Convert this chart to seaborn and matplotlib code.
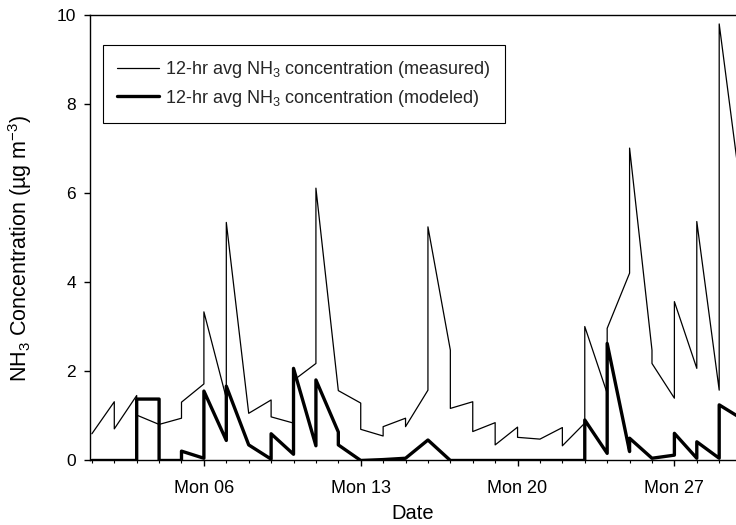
import pandas as pd
import matplotlib
matplotlib.use("Agg")
import matplotlib.pyplot as plt
import matplotlib.dates as mdates
import seaborn as sns

# day of month (Sept 2004) and 12-hr avg NH3
meas_day = [1, 2, 2, 3, 3, 4, 5, 5, 6, 6, 7, 7, 8, 9, 9, 10, 10, 11, 11, 12,
            13, 13, 14, 14, 15, 15, 16, 16, 17, 17, 18, 18, 19, 19, 20, 20, 21,
            22, 22, 23, 23, 24, 24, 25, 25, 26, 26, 27, 27, 28, 28, 29, 29, 30]
meas_val = [0.60, 1.32, 0.71, 1.46, 1.02, 0.81, 0.95, 1.31, 1.72, 3.34, 1.40,
            5.35, 1.06, 1.36, 0.98, 0.84, 1.80, 2.18, 6.12, 1.57, 1.29, 0.70,
            0.55, 0.76, 0.95, 0.76, 1.58, 5.25, 2.48, 1.17, 1.32, 0.65, 0.85,
            0.35, 0.75, 0.52, 0.48, 0.74, 0.33, 0.84, 3.01, 1.51, 2.97, 4.21,
            7.02, 2.48, 2.18, 1.40, 3.57, 2.07, 5.37, 1.58, 9.81, 5.93]

mod_day = [1, 3, 3, 4, 4, 5, 5, 6, 6, 7, 7, 8, 9, 9, 10, 10, 11, 11, 12, 12,
           13, 14, 15, 16, 17, 23, 23, 24, 24, 25, 25, 26, 27, 27, 28, 28,
           29, 29, 30]
mod_val = [0.0, 0.0, 1.38, 1.38, 0.0, 0.0, 0.21, 0.05, 1.56, 0.45, 1.67, 0.35,
           0.03, 0.60, 0.14, 2.07, 0.33, 1.81, 0.64, 0.35, 0.0, 0.02, 0.05,
           0.46, 0.0, 0.0, 0.91, 0.16, 2.63, 0.20, 0.50, 0.05, 0.12, 0.61,
           0.05, 0.42, 0.05, 1.25, 0.94]

start = pd.Timestamp("2004-09-01")
meas = pd.DataFrame({"date": start + pd.to_timedelta([d - 1 for d in meas_day], unit="D"),
                     "nh3": meas_val})
mod = pd.DataFrame({"date": start + pd.to_timedelta([d - 1 for d in mod_day], unit="D"),
                    "nh3": mod_val})

sns.set_theme(style="ticks")
plt.rcParams["font.family"] = ["Liberation Sans", "DejaVu Sans"]
plt.rcParams["mathtext.default"] = "regular"

fig = plt.figure(figsize=(7.36, 5.25), dpi=100)
ax = fig.add_axes([0.1223, 0.1229, 0.8777, 0.8476])

sns.lineplot(data=meas, x="date", y="nh3", ax=ax, estimator=None, sort=False,
             color="black", linewidth=0.9,
             label=r"12-hr avg NH$_3$ concentration (measured)")
sns.lineplot(data=mod, x="date", y="nh3", ax=ax, estimator=None, sort=False,
             color="black", linewidth=2.4,
             label=r"12-hr avg NH$_3$ concentration (modeled)")

ax.set_xlim(start - pd.Timedelta(hours=2), start + pd.Timedelta(days=28, hours=18))
ax.set_ylim(0, 10)
ax.set_yticks([0, 2, 4, 6, 8, 10])

ax.xaxis.set_major_locator(mdates.WeekdayLocator(byweekday=mdates.MO))
ax.xaxis.set_major_formatter(mdates.DateFormatter("%a %d"))
ax.xaxis.set_minor_locator(mdates.DayLocator())

ax.tick_params(axis="both", which="major", direction="out", length=4,
               width=1, pad=6, color="black", labelcolor="black")
ax.tick_params(axis="y", which="major", labelsize=12.5)
ax.tick_params(axis="x", which="major", labelsize=13, pad=10)
ax.tick_params(axis="x", which="minor", direction="out", length=2.5, width=0.8,
               color="black")

for side in ["left", "bottom", "top"]:
    ax.spines[side].set_visible(True)
    ax.spines[side].set_color("black")
    ax.spines[side].set_linewidth(1.0)
ax.spines["right"].set_visible(False)

ax.set_xlabel("Date", fontsize=14.5, color="black", labelpad=5)
ax.set_ylabel(r"NH$_3$ Concentration (µg m$^{-3}$)", fontsize=15.5,
              color="black")
ax.yaxis.set_label_coords(-0.086, 0.4775)

leg = ax.legend(loc="upper left", bbox_to_anchor=(0.02, 0.934),
                borderaxespad=0, fontsize=13, frameon=True, fancybox=False,
                edgecolor="black", framealpha=1, handlelength=2.3,
                handletextpad=0.35, borderpad=0.8, labelspacing=0.4)
leg.get_frame().set_linewidth(0.8)

fig.savefig("out.png", dpi=100)
